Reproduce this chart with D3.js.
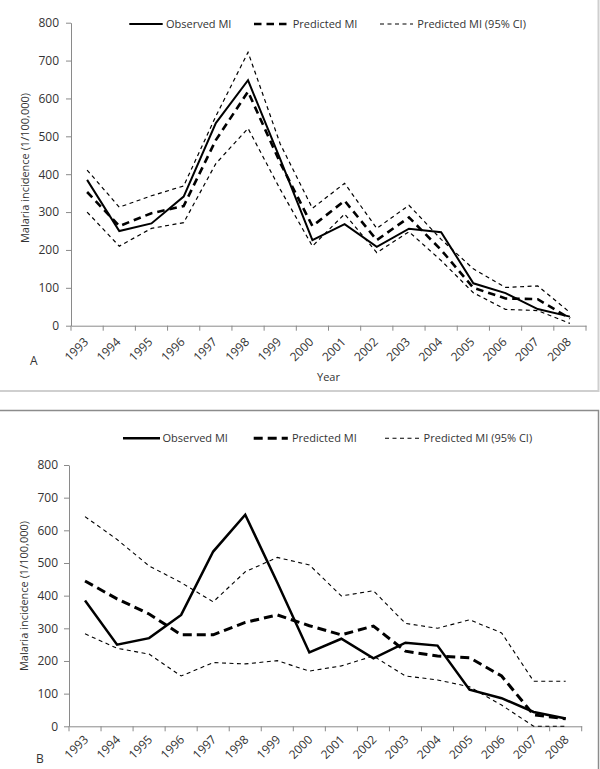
<!DOCTYPE html>
<html>
<head>
<meta charset="utf-8">
<script src="https://cdn.jsdelivr.net/npm/d3@7"></script>
<style>
  html, body { margin: 0; padding: 0; background: #fff; }
  svg { display: block; }
  text { font-family: "Open Sans", "Liberation Sans", sans-serif; fill: #333; }
</style>
</head>
<body>
<svg id="chart" width="600" height="769"></svg>
<script>
// ---- data ----
const years = ["1993","1994","1995","1996","1997","1998","1999","2000","2001","2002","2003","2004","2005","2006","2007","2008"];
const observed = [385, 250, 270, 341, 535, 648, 440, 226, 268, 208, 256, 247, 112, 86, 44, 24];
// Panel A
const predictedA = [353, 263, 297, 316, 490, 618, 430, 263, 330, 226, 286, 200, 100, 72, 70, 19];
const upperA = [411, 313, 343, 369, 553, 722, 480, 310, 376, 257, 318, 228, 150, 101, 105, 35];
const lowerA = [300, 210, 257, 272, 428, 521, 360, 210, 295, 193, 248, 172, 87, 43, 40, 6];
// Panel B
const predictedB = [445, 390, 344, 280, 280, 318, 341, 308, 280, 307, 230, 215, 210, 154, 35, 23];
const upperB = [642, 572, 491, 440, 381, 473, 517, 494, 399, 415, 315, 300, 326, 286, 138, 138];
const lowerB = [283, 239, 221, 154, 195, 191, 201, 169, 185, 215, 154, 142, 121, 65, 0, 0];
const yTicks = [0, 100, 200, 300, 400, 500, 600, 700, 800];
const legendLabels = ["Observed MI", "Predicted MI", "Predicted MI (95% CI)"];
const yLabel = "Malaria incidence (1/100,000)";

const svg = d3.select("#chart");

// frames
svg.append("rect").attr("x", -3).attr("y", -3).attr("width", 601.5).attr("height", 394)
  .attr("fill", "none").attr("stroke", "#cfcfcf").attr("stroke-width", 2);
svg.append("rect").attr("x", -3).attr("y", 410.5).attr("width", 601.5).attr("height", 365)
  .attr("fill", "none").attr("stroke", "#8c8c8c").attr("stroke-width", 1.5);

function panel(cfg) {
  const g = svg.append("g");
  const x = d3.scaleBand().domain(years).range([cfg.x0, cfg.x1]).padding(0);
  const y = d3.scaleLinear().domain([0, 800]).range([cfg.y0, cfg.y1]);
  const cx = d => x(d) + x.bandwidth() / 2;

  // y axis
  const ya = g.append("g").attr("transform", `translate(${cfg.x0},0)`)
    .call(d3.axisLeft(y).tickValues(yTicks).tickSize(5).tickPadding(cfg.yPad).tickSizeOuter(0));
  ya.selectAll("path, line").attr("stroke", "#8a8a8a");
  ya.selectAll("text").style("font-size", "12px").attr("fill", "#333")
    .style("font-family", '"Open Sans", sans-serif');

  // x axis (labels via axis, tick marks at band boundaries)
  const xa = g.append("g").attr("transform", `translate(0,${cfg.y0})`)
    .call(d3.axisBottom(x).tickSize(0).tickSizeOuter(0).tickPadding(0));
  xa.select("path").attr("stroke", "#8a8a8a");
  xa.selectAll("text")
    .style("font-size", "12px").attr("fill", "#333")
    .style("font-family", '"Open Sans", sans-serif')
    .attr("text-anchor", "end").attr("dy", null).attr("y", null)
    .attr("transform", `translate(${cfg.lblDx},${cfg.lblDy}) rotate(-45)`);
  const bounds = years.map(d => x(d)).concat([cfg.x1]);
  g.append("g").selectAll("line").data(bounds).join("line")
    .attr("x1", d => d).attr("x2", d => d)
    .attr("y1", cfg.y0).attr("y2", cfg.y0 + 5)
    .attr("stroke", "#8a8a8a");

  // lines
  const line = d3.line().x((d, i) => cx(years[i])).y(d => y(d));
  const series = [
    { v: cfg.lower, w: cfg.ciW, dash: cfg.ciDash },
    { v: cfg.upper, w: cfg.ciW, dash: cfg.ciDash },
    { v: cfg.pred, w: cfg.predW, dash: cfg.predDash },
    { v: observed, w: cfg.obsW, dash: null }
  ];
  series.forEach(s => {
    g.append("path").datum(s.v).attr("d", line)
      .attr("fill", "none").attr("stroke", "#000").attr("stroke-width", s.w)
      .attr("stroke-dasharray", s.dash).attr("stroke-linejoin", "miter");
  });

  // legend
  const lg = g.append("g");
  const styles = [
    { w: cfg.obsW, dash: null },
    { w: cfg.predW, dash: cfg.predDash },
    { w: cfg.ciW, dash: cfg.ciDash }
  ];
  legendLabels.forEach((lab, i) => {
    const it = cfg.legend[i];
    lg.append("line").attr("x1", it[0]).attr("x2", it[1])
      .attr("y1", cfg.legY).attr("y2", cfg.legY)
      .attr("stroke", "#000").attr("stroke-width", styles[i].w)
      .attr("stroke-dasharray", styles[i].dash);
    lg.append("text").attr("x", it[2]).attr("y", cfg.legY + 4)
      .style("font-size", "11px").text(lab);
  });

  // y label
  g.append("text")
    .attr("transform", `translate(${cfg.yLabX},${cfg.yLabY}) rotate(-90)`)
    .attr("text-anchor", "middle").style("font-size", "11px").text(yLabel);

  // panel letter
  g.append("text").attr("x", cfg.letterX).attr("y", cfg.letterY)
    .style("font-size", "12px").text(cfg.letter);
}

panel({
  x0: 71, x1: 586, y0: 325.7, y1: 22.7, yPad: 7,
  lblDx: 2, lblDy: 17,
  pred: predictedA, upper: upperA, lower: lowerA,
  obsW: 2, predW: 2.6, ciW: 1.2, predDash: "7.5,5", ciDash: "4,3.5",
  legY: 24,
  legend: [[129.3, 162.7, 166], [254, 288, 292.7], [380, 413, 417.3]],
  yLabX: 29, yLabY: 168, letter: "A", letterX: 30, letterY: 365
});

panel({
  x0: 69, x1: 581.7, y0: 726.3, y1: 465, yPad: 6,
  lblDx: 4, lblDy: 14,
  pred: predictedB, upper: upperB, lower: lowerB,
  obsW: 2.5, predW: 3, ciW: 1.1, predDash: "9,5", ciDash: "4,3.5",
  legY: 438.3,
  legend: [[123, 160, 162.5], [253.7, 287.8, 292], [385, 419, 423.6]],
  yLabX: 28, yLabY: 596, letter: "B", letterX: 36, letterY: 763
});

// x-axis title (panel A only)
svg.append("text").attr("x", 328.5).attr("y", 381).attr("text-anchor", "middle")
  .style("font-size", "11px").text("Year");
</script>
</body>
</html>
